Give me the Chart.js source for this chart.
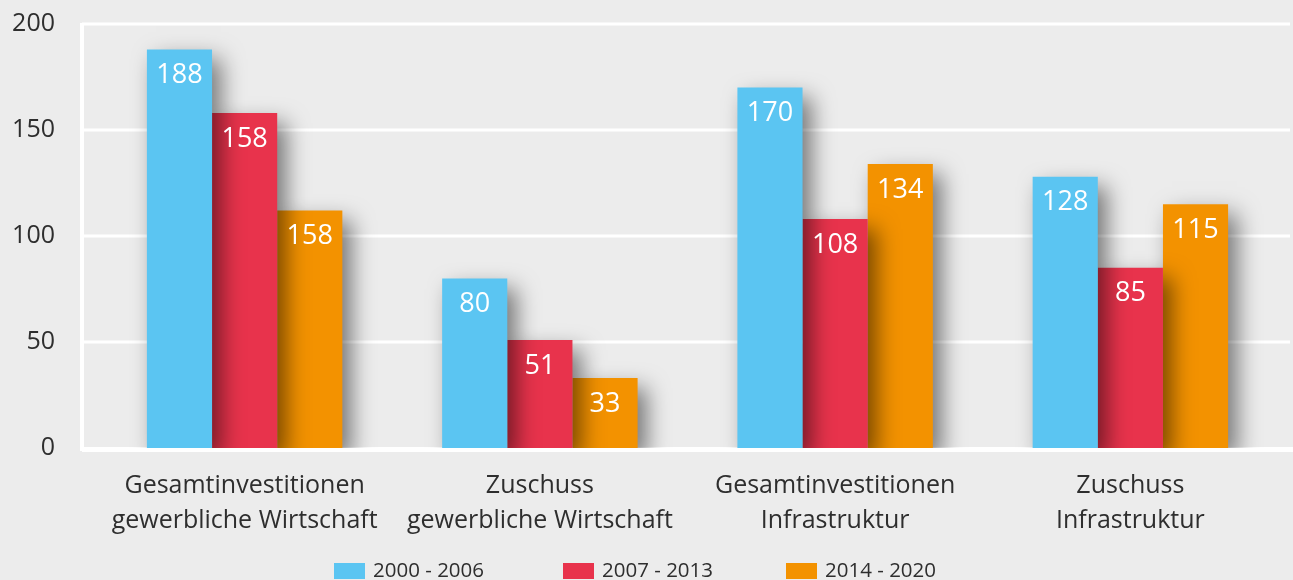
<!DOCTYPE html>
<html>
<head>
<meta charset="utf-8">
<script src="https://cdn.jsdelivr.net/npm/chart.js@4/dist/chart.umd.min.js"></script>
<style>
  html, body { margin: 0; padding: 0; background: #ececec; }
  #wrap { width: 1293px; height: 580px; }
</style>
</head>
<body>
<div id="wrap"><canvas id="myChart" width="1293" height="580"></canvas></div>
<script>
const categories = [
  ["Gesamtinvestitionen", "gewerbliche Wirtschaft"],
  ["Zuschuss", "gewerbliche Wirtschaft"],
  ["Gesamtinvestitionen", "Infrastruktur"],
  ["Zuschuss", "Infrastruktur"],
];
const periods = ["2000 - 2006", "2007 - 2013", "2014 - 2020"];
const colors = ["#5bc5f2", "#e8334c", "#f39200"];

// bar heights as drawn
const values2000 = [188, 80, 170, 128];
const values2007 = [158, 51, 108, 85];
const values2014 = [112, 33, 134, 115];

// labels as printed in the bars
const labels2000 = ["188", "80", "170", "128"];
const labels2007 = ["158", "51", "108", "85"];
const labels2014 = ["158", "33", "134", "115"];

const yTicks = [0, 50, 100, 150, 200];

const textColor = "#2e2e2e";
const fontFamily = "'Open Sans', 'Noto Sans', sans-serif";

// white frame + gridlines, from the y scale
const gridPlugin = {
  id: "grid",
  beforeDatasetsDraw(chart) {
    const ctx = chart.ctx;
    const y = chart.scales.y;
    const left = 82;
    const right = 1290;
    ctx.save();
    ctx.strokeStyle = "#ffffff";
    yTicks.forEach((t) => {
      const py = Math.round(y.getPixelForValue(t));
      ctx.lineWidth = t === 0 ? 5 : 3;
      ctx.beginPath();
      ctx.moveTo(left, py + (t === 0 ? 1.5 : 0));
      ctx.lineTo(t === 0 ? 1293 : right, py + (t === 0 ? 1.5 : 0));
      ctx.stroke();
    });
    ctx.lineWidth = 4;
    ctx.beginPath();
    ctx.moveTo(left, y.getPixelForValue(200) - 1);
    ctx.lineTo(left, y.getPixelForValue(0) + 3);
    ctx.stroke();
    ctx.restore();
  },
};

// soft drop shadow behind bars
const shadowPlugin = {
  id: "shadow",
  beforeDatasetDraw(chart) {
    const ctx = chart.ctx;
    ctx.save();
    ctx.shadowColor = "rgba(0, 0, 0, 0.5)";
    ctx.shadowBlur = 22;
    ctx.shadowOffsetX = 9;
    ctx.shadowOffsetY = 10;
  },
  afterDatasetDraw(chart) {
    chart.ctx.restore();
  },
};

const printed = [labels2000, labels2007, labels2014];

const valueLabelPlugin = {
  id: "valueLabels",
  afterDatasetsDraw(chart) {
    const ctx = chart.ctx;
    ctx.save();
    ctx.fillStyle = "#ffffff";
    ctx.font = "27px " + fontFamily;
    ctx.textAlign = "center";
    ctx.textBaseline = "middle";
    chart.data.datasets.forEach((ds, i) => {
      chart.getDatasetMeta(i).data.forEach((bar, j) => {
        ctx.fillText(printed[i][j], bar.x, bar.y + 26);
      });
    });
    ctx.restore();
  },
};

const legendPlugin = {
  id: "bottomLegend",
  afterDraw(chart) {
    const ctx = chart.ctx;
    const startX = [334, 563, 786];
    const cy = 571;
    ctx.save();
    ctx.font = "20.5px " + fontFamily;
    ctx.textBaseline = "middle";
    ctx.textAlign = "left";
    chart.data.datasets.forEach((ds, i) => {
      ctx.fillStyle = ds.backgroundColor;
      ctx.fillRect(startX[i], cy - 8, 31, 16);
      ctx.fillStyle = textColor;
      ctx.fillText(ds.label, startX[i] + 39, cy);
    });
    ctx.restore();
  },
};

new Chart("myChart", {
  type: "bar",
  data: {
    labels: categories,
    datasets: [
      { label: periods[0], data: values2000, backgroundColor: colors[0] },
      { label: periods[1], data: values2007, backgroundColor: colors[1] },
      { label: periods[2], data: values2014, backgroundColor: colors[2] },
    ],
  },
  options: {
    responsive: false,
    animation: false,
    layout: { autoPadding: false, padding: { top: 24, right: 15, left: 0, bottom: 0 } },
    datasets: {
      bar: { barPercentage: 1, categoryPercentage: 0.662, borderWidth: 0 },
    },
    plugins: {
      legend: { display: false },
      tooltip: { enabled: false },
    },
    scales: {
      x: {
        grid: { display: false, drawTicks: false },
        border: { display: false },
        ticks: {
          color: textColor,
          font: { size: 25, family: fontFamily, lineHeight: 1.4 },
          padding: 20,
          maxRotation: 0,
        },
        afterFit(scale) { scale.height = 132; },
      },
      y: {
        min: 0,
        max: 200,
        grid: { display: false, drawTicks: false },
        border: { display: false },
        ticks: {
          stepSize: 50,
          color: textColor,
          font: { size: 25, family: fontFamily },
          padding: 42,
        },
        afterFit(scale) {
          scale.width = 97;
          scale.paddingTop = 0;
          scale.paddingBottom = 0;
        },
      },
    },
  },
  plugins: [gridPlugin, shadowPlugin, valueLabelPlugin, legendPlugin],
});
</script>
</body>
</html>
